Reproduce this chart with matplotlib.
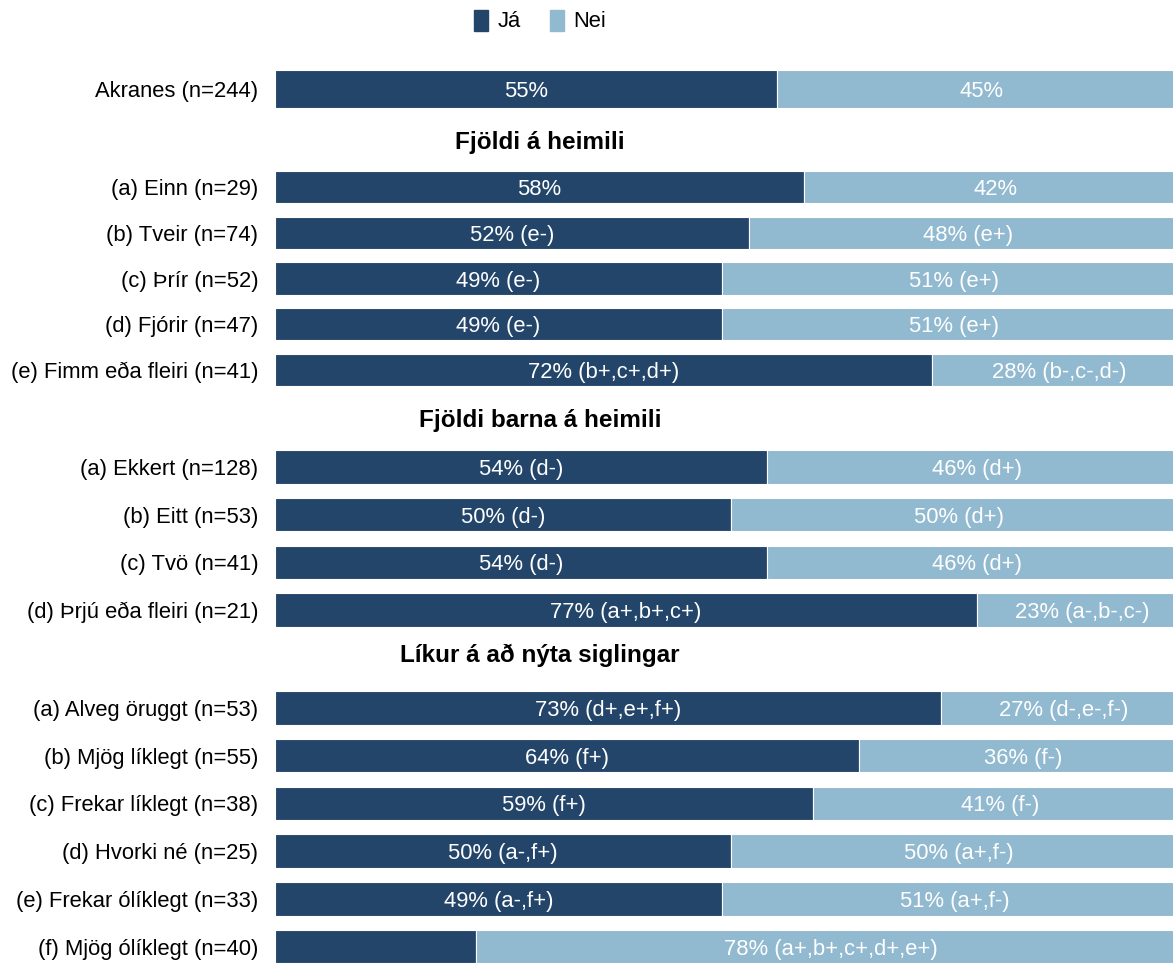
import matplotlib.pyplot as plt
from matplotlib.patches import Patch

plt.rcParams['font.family'] = ['Liberation Sans', 'DejaVu Sans']

# Data
sections = ['', 'Fjöldi á heimili', 'Fjöldi barna á heimili', 'Líkur á að nýta siglingar']

labels = [
    ['Akranes (n=244)'],
    ['(a) Einn (n=29)', '(b) Tveir (n=74)', '(c) Þrír (n=52)', '(d) Fjórir (n=47)',
     '(e) Fimm eða fleiri (n=41)'],
    ['(a) Ekkert (n=128)', '(b) Eitt (n=53)', '(c) Tvö (n=41)', '(d) Þrjú eða fleiri (n=21)'],
    ['(a) Alveg öruggt (n=53)', '(b) Mjög líklegt (n=55)', '(c) Frekar líklegt (n=38)',
     '(d) Hvorki né (n=25)', '(e) Frekar ólíklegt (n=33)', '(f) Mjög ólíklegt (n=40)'],
]

ja = [
    [55],
    [58, 52, 49, 49, 72],
    [54, 50, 54, 77],
    [73, 64, 59, 50, 49, 22],
]
nei = [
    [45],
    [42, 48, 51, 51, 28],
    [46, 50, 46, 23],
    [27, 36, 41, 50, 51, 78],
]

ja_txt = [
    ['55%'],
    ['58%', '52% (e-)', '49% (e-)', '49% (e-)', '72% (b+,c+,d+)'],
    ['54% (d-)', '50% (d-)', '54% (d-)', '77% (a+,b+,c+)'],
    ['73% (d+,e+,f+)', '64% (f+)', '59% (f+)', '50% (a-,f+)', '49% (a-,f+)', ''],
]
nei_txt = [
    ['45%'],
    ['42%', '48% (e+)', '51% (e+)', '51% (e+)', '28% (b-,c-,d-)'],
    ['46% (d+)', '50% (d+)', '46% (d+)', '23% (a-,b-,c-)'],
    ['27% (d-,e-,f-)', '36% (f-)', '41% (f-)', '50% (a+,f-)', '51% (a+,f-)',
     '78% (a+,b+,c+,d+,e+)'],
]

c_ja = '#23456a'
c_nei = '#91b9d0'

W, H = 1173, 965
fig = plt.figure(figsize=(W / 100, H / 100), dpi=100)

# panel layout in pixels (top, bottom); axes run a bit past the right/bottom edge
panels = [(55.6, 122.4), (159.5, 397.5), (438.4, 638.6), (679.4, 975.2)]
header_y = [None, 142, 421, 655]
ax_left, ax_width = 275, 912
fs = 15.8

for i, (top, bot) in enumerate(panels):
    ax = fig.add_axes([ax_left / W, 1 - bot / H, ax_width / W, (bot - top) / H])
    n = len(labels[i])
    y = list(range(n))
    ax.barh(y, ja[i], height=0.7, color=c_ja, edgecolor='white', linewidth=0.8)
    ax.barh(y, nei[i], left=ja[i], height=0.7, color=c_nei, edgecolor='white', linewidth=0.8)
    for k in range(n):
        ax.text(ja[i][k] / 2, k, ja_txt[i][k], ha='center', va='center_baseline',
                color='white', fontsize=fs)
        ax.text(ja[i][k] + nei[i][k] / 2, k, nei_txt[i][k], ha='center',
                va='center_baseline', color='white', fontsize=fs)
    ax.set_xlim(0, 100)
    ax.set_ylim(n - 0.4, -0.6)
    ax.set_yticks(y)
    ax.set_yticklabels(labels[i], fontsize=fs)
    ax.tick_params(axis='y', length=0, pad=12)
    ax.set_xticks([])
    for s in ax.spines.values():
        s.set_visible(False)
    if sections[i]:
        fig.text(540 / W, 1 - header_y[i] / H, sections[i], ha='center', va='center',
                 fontsize=17.5, fontweight='bold')

handles = [Patch(color=c_ja, label='Já'), Patch(color=c_nei, label='Nei')]
fig.legend(handles=handles, loc='center', bbox_to_anchor=(540 / W, 1 - 21 / H),
           ncol=2, frameon=False, fontsize=fs, handlelength=0.65, handleheight=1.1,
           handletextpad=0.45, columnspacing=1.3)

fig.savefig('out.png', dpi=100)
